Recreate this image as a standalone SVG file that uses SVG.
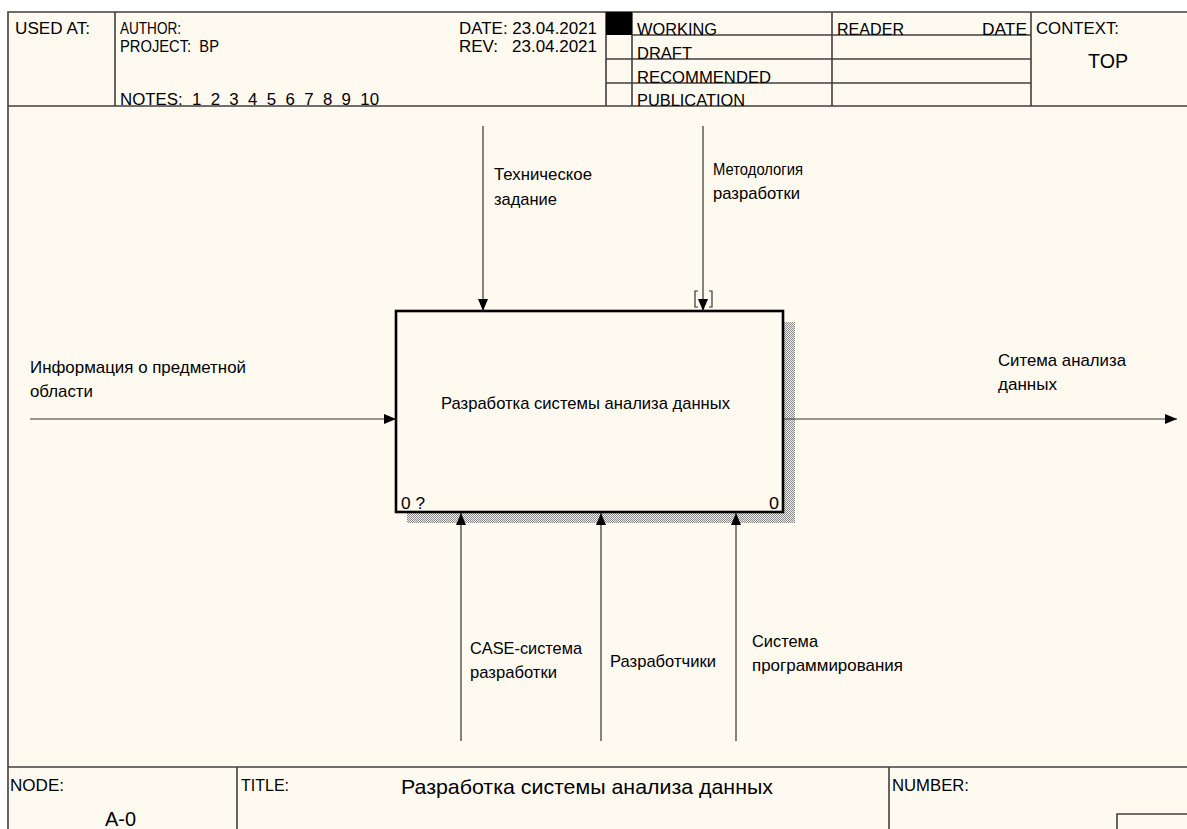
<svg xmlns="http://www.w3.org/2000/svg" width="1187" height="829" viewBox="0 0 1187 829">
  <style>
    text { font-family: "Liberation Sans", Arial, sans-serif; fill: #000; }
    .hdr { font-size: 16px; }
    .lbl { font-size: 17px; }
    .big { font-size: 21px; }
    .frame { stroke: #404040; stroke-width: 1.6; fill: none; }
    .arc { stroke: #333; stroke-width: 1.2; fill: none; }
    .box { fill: #FFFAF0; stroke: #000; stroke-width: 2.6; }
  </style>
  <defs>
    <marker id="arrow" viewBox="0 0 12 10" refX="12" refY="5" markerWidth="12" markerHeight="10" markerUnits="userSpaceOnUse" orient="auto">
      <path d="M0,0 L12,5 L0,10 Z" fill="#000"/>
    </marker>
    <pattern id="hatch" width="2" height="2" patternUnits="userSpaceOnUse">
      <rect width="2" height="2" fill="#eeeeee"/>
      <rect width="1" height="1" fill="#8a8a8a"/>
      <rect x="1" y="1" width="1" height="1" fill="#8a8a8a"/>
    </pattern>
  </defs>

  <!-- sheet -->
  <rect width="1187" height="829" fill="#ffffff"/>
  <rect x="8" y="12" width="1179" height="817" fill="#FFFAF0"/>

  <!-- header frame -->
  <g id="header">
    <path class="frame" d="M8,829 V12 H1187 M8,106 H1187 M115,12 V106 M606,12 V106 M632,12 V106 M832,12 V106 M1031,12 V106 M632,35 H1031 M606,59 H1031 M606,83 H1031"/>
    <rect x="606" y="12" width="26" height="23" fill="#000"/>
    <text class="hdr" x="15" y="34" textLength="75" lengthAdjust="spacingAndGlyphs">USED AT:</text>
    <text class="hdr" x="120" y="34" textLength="61" lengthAdjust="spacingAndGlyphs">AUTHOR:</text>
    <text class="hdr" x="120" y="52" textLength="99" lengthAdjust="spacingAndGlyphs" xml:space="preserve">PROJECT:  BP</text>
    <text class="hdr" x="120" y="105" textLength="259" lengthAdjust="spacingAndGlyphs" xml:space="preserve">NOTES:  1  2  3  4  5  6  7  8  9  10</text>
    <text class="hdr" x="459" y="34" textLength="138" lengthAdjust="spacingAndGlyphs">DATE: 23.04.2021</text>
    <text class="hdr" x="459" y="52" textLength="138" lengthAdjust="spacingAndGlyphs" xml:space="preserve">REV:   23.04.2021</text>
    <text class="hdr" x="637" y="35" textLength="80" lengthAdjust="spacingAndGlyphs">WORKING</text>
    <text class="hdr" x="637" y="59" textLength="55" lengthAdjust="spacingAndGlyphs">DRAFT</text>
    <text class="hdr" x="637" y="83" textLength="134" lengthAdjust="spacingAndGlyphs">RECOMMENDED</text>
    <text class="hdr" x="637" y="106" textLength="108" lengthAdjust="spacingAndGlyphs">PUBLICATION</text>
    <text class="hdr" x="837" y="35" textLength="67" lengthAdjust="spacingAndGlyphs">READER</text>
    <text class="hdr" x="982" y="35" textLength="45" lengthAdjust="spacingAndGlyphs">DATE</text>
    <text class="hdr" x="1036" y="34" textLength="83" lengthAdjust="spacingAndGlyphs">CONTEXT:</text>
    <text class="big" x="1088" y="68" textLength="40" lengthAdjust="spacingAndGlyphs">TOP</text>
  </g>

  <!-- footer frame -->
  <g id="footer">
    <path class="frame" d="M8,767 H1187 M237,767 V829 M889,767 V829 M1117,829 V814 H1187"/>
    <text class="hdr" x="10" y="791" textLength="54" lengthAdjust="spacingAndGlyphs">NODE:</text>
    <text class="big" x="105" y="826" textLength="31" lengthAdjust="spacingAndGlyphs">A-0</text>
    <text class="hdr" x="241" y="791" textLength="48" lengthAdjust="spacingAndGlyphs">TITLE:</text>
    <text class="big" x="401" y="794" textLength="372" lengthAdjust="spacingAndGlyphs">Разработка системы анализа данных</text>
    <text class="hdr" x="892" y="791" textLength="77" lengthAdjust="spacingAndGlyphs">NUMBER:</text>
  </g>

  <!-- activity A0 -->
  <g id="node-A0">
    <rect x="784" y="322" width="11" height="201" fill="url(#hatch)"/>
    <rect x="407" y="513" width="388" height="10" fill="url(#hatch)"/>
    <rect class="box" x="396" y="311" width="387" height="201"/>
    <text class="lbl" x="441" y="409" textLength="289" lengthAdjust="spacingAndGlyphs">Разработка системы анализа данных</text>
    <text class="lbl" x="401" y="509" textLength="24" lengthAdjust="spacingAndGlyphs">0 ?</text>
    <text class="lbl" x="769" y="509" textLength="10" lengthAdjust="spacingAndGlyphs">0</text>
  </g>

  <!-- arrows -->
  <g id="connectors">
    <line class="arc" x1="30" y1="419" x2="396" y2="419" marker-end="url(#arrow)"/>
    <line class="arc" x1="784" y1="419" x2="1177" y2="419" marker-end="url(#arrow)"/>
    <line class="arc" x1="483" y1="126" x2="483" y2="311" marker-end="url(#arrow)"/>
    <line class="arc" x1="703" y1="126" x2="703" y2="311" marker-end="url(#arrow)"/>
    <path class="arc" d="M698,291 H695 V307 H698 M709,291 H712 V307 H709"/>
    <line class="arc" x1="461" y1="741" x2="461" y2="513" marker-end="url(#arrow)"/>
    <line class="arc" x1="601" y1="741" x2="601" y2="513" marker-end="url(#arrow)"/>
    <line class="arc" x1="736" y1="741" x2="736" y2="513" marker-end="url(#arrow)"/>
  </g>

  <!-- arrow labels -->
  <g id="labels">
    <text class="lbl" x="494" y="180" textLength="98" lengthAdjust="spacingAndGlyphs">Техническое</text>
    <text class="lbl" x="494" y="205" textLength="63" lengthAdjust="spacingAndGlyphs">задание</text>
    <text class="lbl" x="713" y="175" textLength="90" lengthAdjust="spacingAndGlyphs">Методология</text>
    <text class="lbl" x="713" y="199" textLength="87" lengthAdjust="spacingAndGlyphs">разработки</text>
    <text class="lbl" x="30" y="373" textLength="216" lengthAdjust="spacingAndGlyphs">Информация о предметной</text>
    <text class="lbl" x="30" y="397" textLength="63" lengthAdjust="spacingAndGlyphs">области</text>
    <text class="lbl" x="998" y="366" textLength="128" lengthAdjust="spacingAndGlyphs">Ситема анализа</text>
    <text class="lbl" x="998" y="390" textLength="59" lengthAdjust="spacingAndGlyphs">данных</text>
    <text class="lbl" x="470" y="654" textLength="112" lengthAdjust="spacingAndGlyphs">CASE-система</text>
    <text class="lbl" x="470" y="678" textLength="87" lengthAdjust="spacingAndGlyphs">разработки</text>
    <text class="lbl" x="610" y="667" textLength="106" lengthAdjust="spacingAndGlyphs">Разработчики</text>
    <text class="lbl" x="752" y="647" textLength="66" lengthAdjust="spacingAndGlyphs">Система</text>
    <text class="lbl" x="752" y="671" textLength="151" lengthAdjust="spacingAndGlyphs">программирования</text>
  </g>
</svg>
